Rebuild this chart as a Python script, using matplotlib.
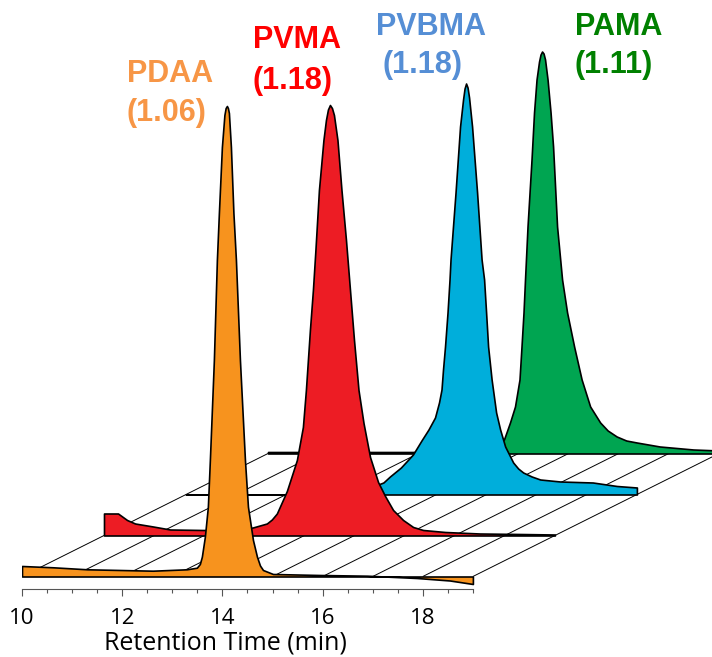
import numpy as np
import matplotlib
matplotlib.use("Agg")
import matplotlib.pyplot as plt
from matplotlib.ticker import FixedLocator

# ---------------- data (retention time in min, signal in a.u.) ----------------
pdaa_t = [10.00, 10.62, 11.30, 11.96, 12.61, 13.29, 13.49, 13.55, 13.59, 13.65, 13.71, 13.75,
          13.83, 13.89, 13.93, 13.99, 14.04, 14.065, 14.09, 14.11, 14.13, 14.17, 14.22, 14.27,
          14.35, 14.45, 14.51, 14.61, 14.69, 14.75, 14.81, 15.01, 15.95, 16.89, 17.88, 18.54, 19.00]
pdaa_y = [10.5, 9.2, 7.2, 6.5, 5.8, 7.2, 8.8, 12.5, 19.8, 39.8, 69.8, 116.5,
          216.5, 316.5, 363.5, 429.5, 461.5, 468.5, 470.5, 468.5, 463.5, 429.5, 363.5, 316.5,
          216.5, 116.5, 69.8, 36.5, 19.8, 11, 6.5, 2.5, 1.5, 0.8, -1.5, -4.0, -7.5]

pvma_t = [10.00, 10.28, 10.46, 10.62, 10.98, 11.32, 11.98, 12.65, 12.97, 13.25, 13.35, 13.45,
          13.57, 13.65, 13.85, 13.97, 14.03, 14.11, 14.17, 14.22, 14.29, 14.38, 14.43, 14.47,
          14.51, 14.55, 14.59, 14.66, 14.74, 14.83, 14.91, 14.99, 15.08, 15.18, 15.31, 15.47,
          15.61, 15.77, 15.97, 16.17, 16.37, 16.81, 17.50, 18.30, 19.00]
pvma_y = [22, 22, 15.5, 12, 9, 6, 5.5, 5.5, 8, 12, 16, 22,
          35.5, 44.5, 75.5, 108.5, 145.5, 205.5, 245.5, 285.5, 345.5, 395.5, 415.5, 426,
          430.5, 427.5, 420.5, 395.5, 345.5, 295.5, 245.5, 195.5, 145.5, 112.5, 78.5, 53.5,
          39.5, 25.5, 15.5, 8.5, 5.5, 3.5, 2, 1.5, 1]

pvbma_t = [10.00, 12.28, 13.07, 13.47, 13.94, 14.07, 14.29, 14.53, 14.70, 14.84, 14.97,
           15.05, 15.10, 15.13, 15.17, 15.22, 15.26, 15.28, 15.38, 15.47, 15.53, 15.56, 15.59,
           15.62, 15.65, 15.71, 15.81, 15.90, 15.95, 15.99, 16.03, 16.10, 16.19, 16.27, 16.37,
           16.53, 16.63, 16.73, 16.90, 17.07, 17.47, 18.12, 18.60, 19.00]
pvbma_y = [0, 0, 1, 3, 12, 18, 27, 40, 54, 65, 77,
           92, 105, 125, 148, 182, 215, 235, 302, 368, 395, 406, 411,
           407, 397, 368, 302, 235, 215, 182, 148, 115, 82, 65, 48,
           32, 26, 22, 18, 15, 13, 12, 8.5, 7]

pama_t = [10.00, 12.89, 13.43, 14.03, 14.53, 14.71, 14.83, 14.93, 15.02, 15.06, 15.10,
          15.13, 15.18, 15.26, 15.31, 15.36, 15.41, 15.44, 15.47, 15.50, 15.53, 15.58, 15.64,
          15.69, 15.77, 15.87, 15.97, 16.11, 16.26, 16.43, 16.63, 16.78, 16.96, 17.15, 17.36,
          17.82, 18.49, 19.00]
pama_y = [1.5, 1.5, 2, 4, 7, 14, 31, 47, 74, 107, 141,
          174, 227, 294, 341, 374, 392, 399, 402, 400, 394, 374, 341,
          307, 227, 174, 141, 107, 74, 47, 31, 23, 17, 13, 11,
          7, 4, 3]

names = ["PDAA", "PVMA", "PVBMA", "PAMA"]
dispersity = ["(1.06)", "(1.18)", "(1.18)", "(1.11)"]
traces_t = [pdaa_t, pvma_t, pvbma_t, pama_t]
traces_y = [pdaa_y, pvma_y, pvbma_y, pama_y]

fill_colors = ["#F7931E", "#ED1C24", "#00AEDB", "#00A551"]
label_colors = ["#F79646", "#FF0000", "#558ED5", "#008000"]

t_start, t_end = 10, 19
major_ticks = [10, 12, 14, 16, 18]
floor_lines = list(range(10, 20))

# waterfall offsets (per trace)
DX = 82 / 50.1   # min
DY = 41.0        # a.u.

# ---------------- figure ----------------
W, H = 712, 657
fig = plt.figure(figsize=(W / 100, H / 100), dpi=100)
px = 50.1
ax = fig.add_axes([22 / W, 0, (W - 22) / W, 1])
ax.set_xlim(10, 10 + (W - 22) / px)
base_pix = 576.5
ax.set_ylim(-(H - base_pix), base_pix)

n = len(traces_t)
# floor diagonals
for t in floor_lines:
    ax.plot([t, t + (n - 1) * DX], [0, (n - 1) * DY], color="black", lw=0.7,
            zorder=1, solid_capstyle="butt")

for i in range(n - 1, -1, -1):
    t = np.asarray(traces_t[i]) + i * DX
    y = np.asarray(traces_y[i], dtype=float)
    b = i * DY
    ax.fill_between(t, b, b + y, facecolor=fill_colors[i], edgecolor="black",
                    lw=1.2, zorder=2 + (n - i), joinstyle="round")

# bottom time axis
for s in ["top", "right", "left"]:
    ax.spines[s].set_visible(False)
ax.spines["bottom"].set_position(("data", -(589 - base_pix)))
ax.spines["bottom"].set_bounds(t_start, t_end)
ax.spines["bottom"].set_linewidth(0.8)
ax.spines["bottom"].set_color("#555555")
ax.set_yticks([])
ax.xaxis.set_major_locator(FixedLocator(major_ticks))
minor = [v / 2 for v in range(2 * t_start + 1, 2 * t_end + 1) if (v / 2) not in major_ticks]
ax.xaxis.set_minor_locator(FixedLocator(minor))
ax.tick_params(axis="x", which="major", length=5, width=0.8, color="#555555",
               pad=9, labelsize=16, direction="out")
ax.tick_params(axis="x", which="minor", length=3, width=0.8, color="#555555",
               direction="out")
for lab in ax.get_xticklabels():
    lab.set_fontfamily("Open Sans")
ax.set_xlabel("Retention Time (min)", fontsize=18, family="Open Sans")
ax.xaxis.set_label_coords((225 - 22) / (W - 22), (H - 631) / H)
ax.xaxis.label.set_va("top")

# labels
label_pos = [(170, 82, 166.5, 121), (297, 48, 293, 89.5), (430.5, 35, 423, 73.5), (619, 35, 613.5, 73.5)]
for i, (x1, y1, x2, y2) in enumerate(label_pos):
    fig.text(x1 / W, 1 - y1 / H, names[i], color=label_colors[i], fontsize=22,
             fontweight="bold", family="Liberation Sans", ha="center", va="baseline")
    fig.text(x2 / W, 1 - y2 / H, dispersity[i], color=label_colors[i], fontsize=22,
             fontweight="bold", family="Liberation Sans", ha="center", va="baseline")

fig.savefig("out.png", dpi=100)
